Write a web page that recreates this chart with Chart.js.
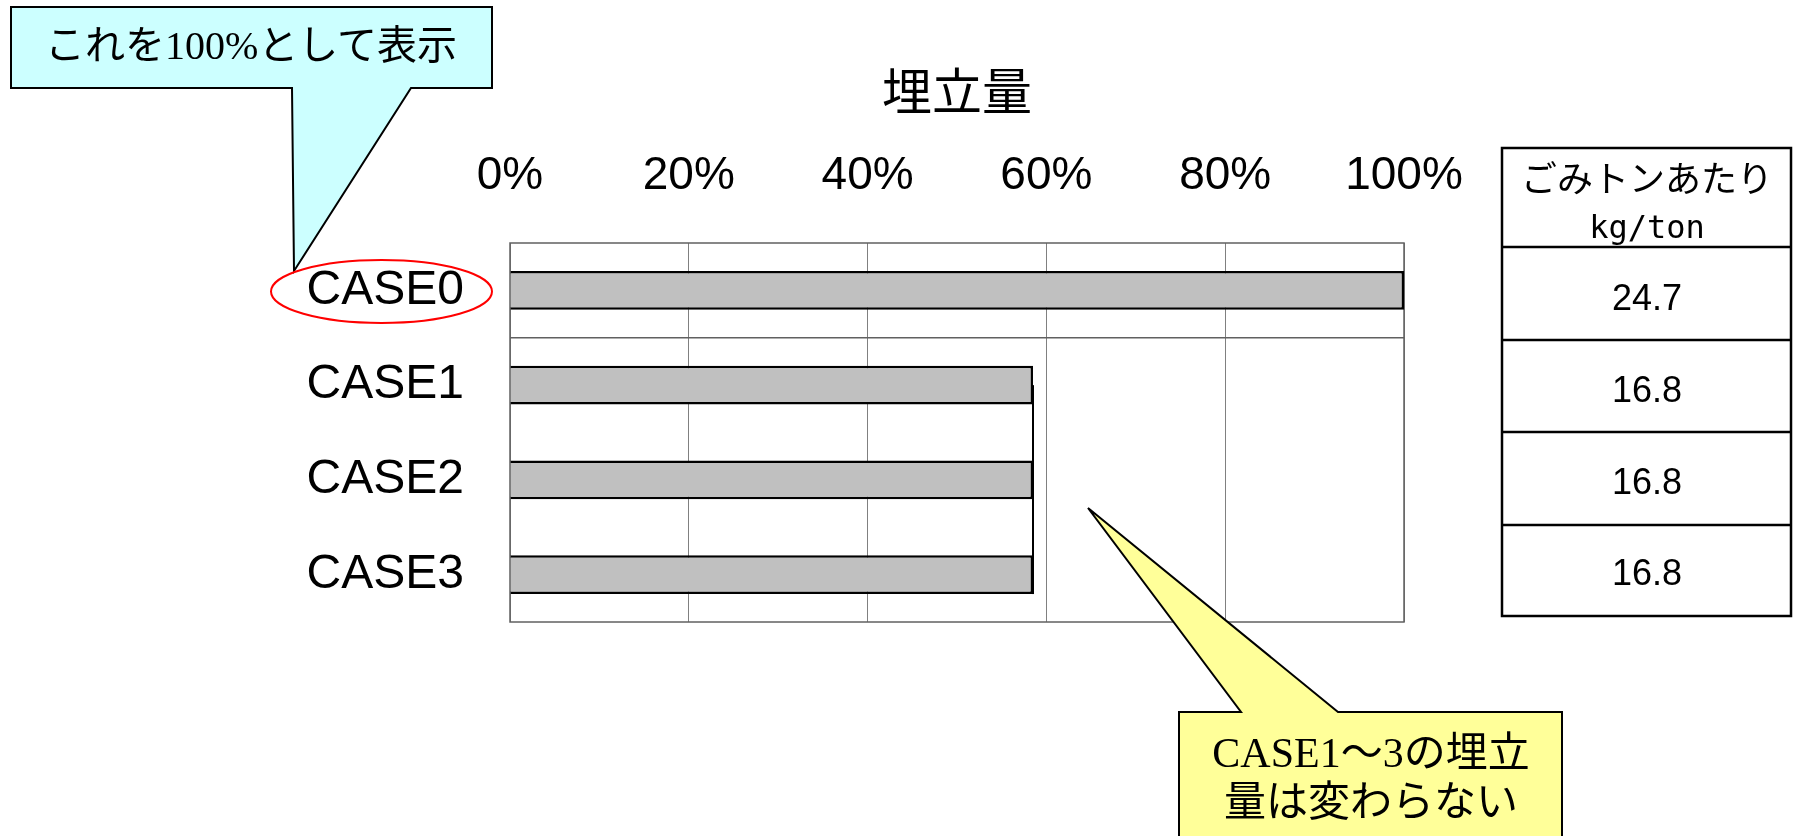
<!DOCTYPE html>
<html>
<head>
<meta charset="utf-8">
<script src="https://cdn.jsdelivr.net/npm/chart.js@4.4.1/dist/chart.umd.min.js"></script>
<style>
  html, body { margin: 0; padding: 0; background: #fff; }
  #wrap { position: relative; width: 1793px; height: 836px; overflow: hidden; }
  #chart { position: absolute; left: 0; top: 0; }
  #overlay { position: absolute; left: 0; top: 0; }
  .txt { position: absolute; transform: translate(-50%, -50%); line-height: 1; white-space: nowrap; color: #000; }
  .jp { font-family: "Liberation Serif", "Noto Sans CJK JP", serif; }
  .cell { font-family: "Liberation Sans", sans-serif; font-size: 36px; }
</style>
</head>
<body>
<div id="wrap">
  <canvas id="chart" width="1793" height="836"></canvas>
  <svg id="overlay" width="1793" height="836">
    <!-- callout: base case -->
    <polygon points="11,7 492,7 492,88 411,88 294,271 292,88 11,88" fill="#ccffff" stroke="#000" stroke-width="2" />
    <ellipse cx="381.5" cy="291.5" rx="110.5" ry="31.5" fill="none" stroke="#ff0000" stroke-width="2" />
    <!-- callout: CASE1-3 -->
    <polygon points="1179,712 1241,712 1088,508 1338,712 1562,712 1562,850 1179,850" fill="#ffff99" stroke="#000" stroke-width="2" />
    <!-- per ton table -->
    <rect x="1502" y="148" width="289" height="468" fill="#fff" stroke="#000" stroke-width="2.5" />
    <line x1="1502" y1="247" x2="1791" y2="247" stroke="#000" stroke-width="2.5" />
    <line x1="1502" y1="340" x2="1791" y2="340" stroke="#000" stroke-width="2.5" />
    <line x1="1502" y1="432" x2="1791" y2="432" stroke="#000" stroke-width="2.5" />
    <line x1="1502" y1="525" x2="1791" y2="525" stroke="#000" stroke-width="2.5" />
  </svg>
  <div id="notes"></div>
</div>

<script>
  // chart data
  const categories = ["CASE0", "CASE1", "CASE2", "CASE3"];
  const landfillShare = [100, 58.5, 58.5, 58.5]; // % of CASE0
  const percentTicks = [0, 20, 40, 60, 80, 100];
  const axisTitle = "埋立量";

  // side table
  const perTonHeader = ["ごみトンあたり", "kg/ton"];
  const perTonValues = ["24.7", "16.8", "16.8", "16.8"];

  // callout texts
  const baseNote = "これを100%として表示";
  const sameNote = ["CASE1～3の埋立", "量は変わらない"];

  // text overlays
  const notes = document.getElementById("notes");
  function addText(text, x, y, cls, size, family) {
    const d = document.createElement("div");
    d.className = "txt " + cls;
    d.style.left = x + "px";
    d.style.top = y + "px";
    d.style.fontSize = size + "px";
    if (family) d.style.fontFamily = family;
    d.textContent = text;
    notes.appendChild(d);
  }

  addText(baseNote, 251, 46, "jp", 40);
  addText(sameNote[0], 1371, 753, "jp", 42);
  addText(sameNote[1], 1371, 802, "jp", 42);

  addText(perTonHeader[0], 1647, 176, "", 36, '"Noto Sans CJK JP", sans-serif');
  addText(perTonHeader[1], 1647, 227, "", 32, '"DejaVu Sans Mono", monospace');
  const rowCenters = [298, 390, 482, 573];
  perTonValues.forEach((v, i) => addText(v, 1647, rowCenters[i], "cell", 36));

  // plot frame + the thin line joining the ends of CASE1-3
  const framePlugin = {
    id: "frame",
    beforeDatasetsDraw(chart) {
      const { ctx, chartArea: a } = chart;
      ctx.save();
      ctx.strokeStyle = "#606060";
      ctx.lineWidth = 1.5;
      ctx.strokeRect(a.left, a.top, a.right - a.left, a.bottom - a.top);
      ctx.restore();
    },
    afterDatasetsDraw(chart) {
      const { ctx } = chart;
      const bars = chart.getDatasetMeta(0).data;
      const x = chart.scales.x.getPixelForValue(landfillShare[1]);
      ctx.save();
      ctx.strokeStyle = "#000";
      ctx.lineWidth = 2;
      ctx.beginPath();
      ctx.moveTo(x, bars[1].y);
      ctx.lineTo(x, bars[3].y + bars[3].height / 2);
      ctx.stroke();
      ctx.restore();
    },
  };

  new Chart(document.getElementById("chart"), {
    type: "bar",
    data: {
      labels: categories,
      datasets: [
        {
          data: landfillShare,
          backgroundColor: "#c0c0c0",
          borderColor: "#000",
          borderWidth: 2.5,
          barPercentage: 0.41,
          categoryPercentage: 1,
        },
      ],
    },
    options: {
      indexAxis: "y",
      responsive: false,
      animation: false,
      layout: {
        padding: { left: 0, top: 0, right: 389, bottom: 214 },
      },
      plugins: {
        legend: { display: false },
        tooltip: { enabled: false },
      },
      scales: {
        x: {
          position: "top",
          min: 0,
          max: 100,
          afterFit: (scale) => {
            scale.height = 243;
          },
          afterBuildTicks: (scale) => {
            scale.ticks = percentTicks.map((v) => ({ value: v }));
          },
          grid: { color: "#808080", lineWidth: 1, drawTicks: false },
          border: { display: false },
          ticks: {
            padding: 39,
            color: "#000",
            font: { family: '"Liberation Sans Narrow", "Liberation Sans", sans-serif', size: 46 },
            callback: (v) => v + "%",
          },
          title: {
            display: true,
            text: axisTitle,
            color: "#000",
            padding: { top: 61, bottom: 0 },
            font: { family: '"Noto Sans CJK JP", sans-serif', size: 50 },
          },
        },
        y: {
          afterFit: (scale) => {
            scale.width = 510;
          },
          grid: {
            offset: true,
            drawTicks: false,
            lineWidth: 1.5,
            color: (c) => (c.index === 1 ? "#606060" : "rgba(0,0,0,0)"),
          },
          border: { display: false },
          ticks: {
            padding: 46,
            color: "#000",
            font: { family: '"Liberation Sans", sans-serif', size: 48 },
          },
        },
      },
    },
    plugins: [framePlugin],
  });
</script>
</body>
</html>
